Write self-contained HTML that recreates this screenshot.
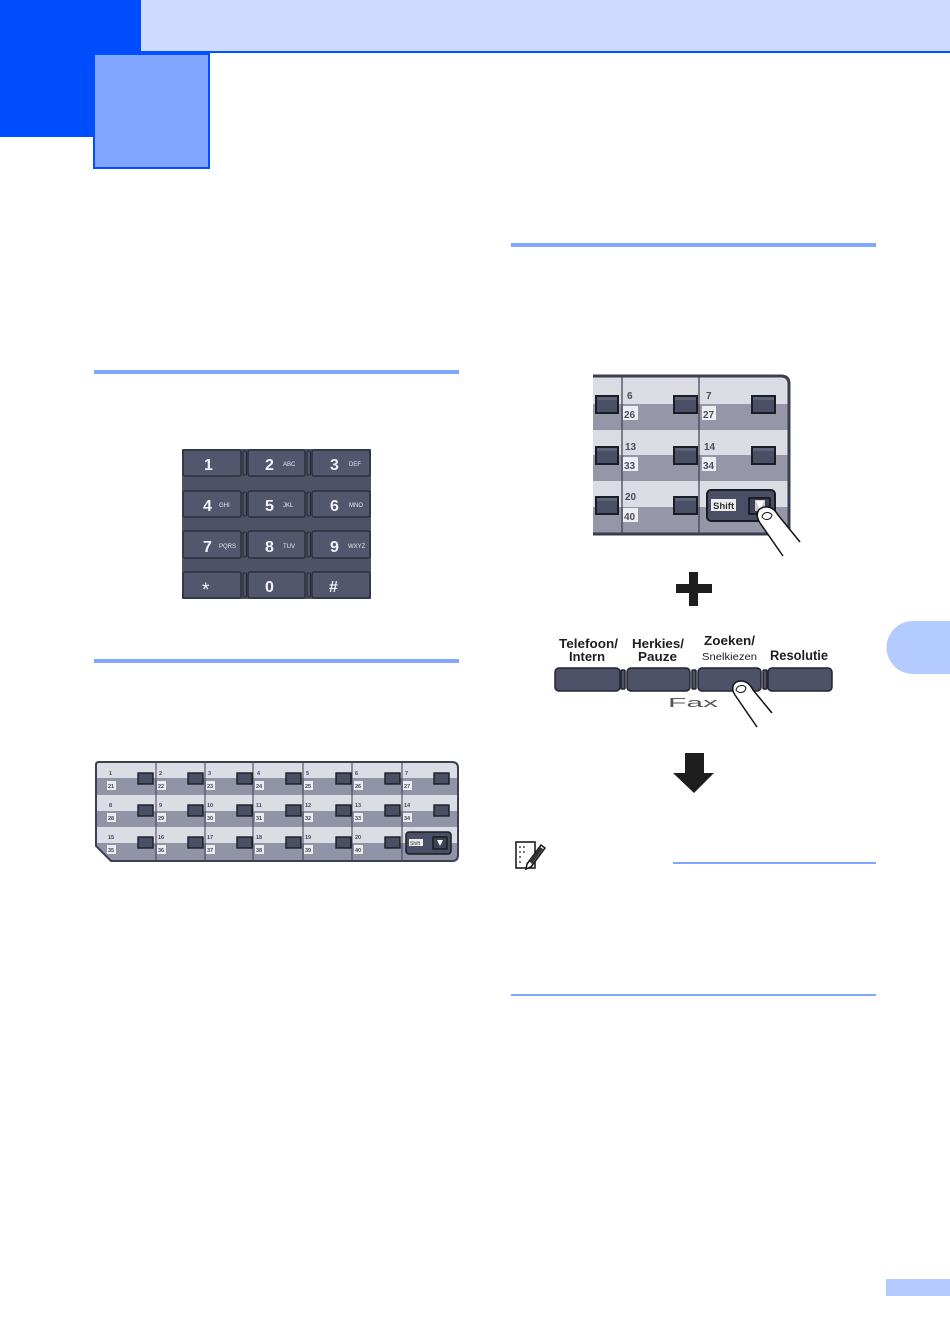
<!DOCTYPE html>
<html>
<head>
<meta charset="utf-8">
<style>
html,body{margin:0;padding:0;background:#fff;}
body{width:950px;height:1342px;position:relative;overflow:hidden;font-family:"Liberation Sans",sans-serif;}
svg{position:absolute;left:0;top:0;}
</style>
</head>
<body>
<svg width="950" height="1342" viewBox="0 0 950 1342" xmlns="http://www.w3.org/2000/svg" font-family="Liberation Sans, sans-serif">
<defs>
  <clipPath id="lp"><path d="M99,762 H452 Q458,762 458,768 V855 Q458,861 452,861 H111 L96,846 V765 Q96,762 99,762 Z"/></clipPath>
  <clipPath id="rp"><path d="M593,376 H781 Q789,376 789,384 V534 H593 Z"/></clipPath>
</defs>

<!-- Header -->
<rect x="0" y="0" width="141" height="137" fill="#004CFF"/>
<rect x="141" y="0" width="809" height="51" fill="#CCDBFF"/>
<rect x="141" y="51" width="809" height="2" fill="#0050FF"/>
<rect x="94" y="54" width="115" height="114" fill="#80A6FF" stroke="#0050FF" stroke-width="2"/>

<!-- Section lines -->
<rect x="94" y="370" width="365" height="4" fill="#80A6FF"/>
<rect x="511" y="243" width="365" height="4" fill="#80A6FF"/>
<rect x="94" y="659" width="365" height="4" fill="#80A6FF"/>
<rect x="673" y="862" width="203" height="2" fill="#80A6FF"/>
<rect x="511" y="994" width="365" height="2" fill="#80A6FF"/>

<!-- Side tabs -->
<path d="M913,621 H950 V674 H913 A26.5,26.5 0 0 1 913,621 Z" fill="#B3CBFF"/>
<rect x="886" y="1279" width="64" height="17" fill="#B3CBFF"/>

<!-- Keypad -->
<g>
  <rect x="182" y="449" width="189" height="150" fill="#4D5267"/>
  <g fill="#52576E" stroke="#262935" stroke-width="1.3">
    <rect x="183" y="450" width="58" height="26" rx="2"/>
    <rect x="248" y="450" width="57" height="26" rx="2"/>
    <rect x="312" y="450" width="58" height="26" rx="2"/>
    <rect x="183" y="491" width="58" height="26" rx="2"/>
    <rect x="248" y="491" width="57" height="26" rx="2"/>
    <rect x="312" y="491" width="58" height="26" rx="2"/>
    <rect x="183" y="531" width="58" height="27" rx="2"/>
    <rect x="248" y="531" width="57" height="27" rx="2"/>
    <rect x="312" y="531" width="58" height="27" rx="2"/>
    <rect x="183" y="572" width="58" height="26" rx="2"/>
    <rect x="248" y="572" width="57" height="26" rx="2"/>
    <rect x="312" y="572" width="58" height="26" rx="2"/>
  </g>
  <g fill="#4D5267" stroke="#262935" stroke-width="1">
    <rect x="243" y="451" width="3.5" height="24" rx="1"/>
    <rect x="307" y="451" width="3.5" height="24" rx="1"/>
    <rect x="243" y="492" width="3.5" height="24" rx="1"/>
    <rect x="307" y="492" width="3.5" height="24" rx="1"/>
    <rect x="243" y="532" width="3.5" height="25" rx="1"/>
    <rect x="307" y="532" width="3.5" height="25" rx="1"/>
    <rect x="243" y="573" width="3.5" height="24" rx="1"/>
    <rect x="307" y="573" width="3.5" height="24" rx="1"/>
  </g>
  <g fill="#F2F2F7" font-size="16" font-weight="bold">
    <text x="204" y="470">1</text>
    <text x="265" y="470">2</text>
    <text x="330" y="470">3</text>
    <text x="203" y="511">4</text>
    <text x="265" y="511">5</text>
    <text x="330" y="511">6</text>
    <text x="203" y="552">7</text>
    <text x="265" y="552">8</text>
    <text x="330" y="552">9</text>
    <text x="202" y="596" font-size="19" font-weight="normal">*</text>
    <text x="265" y="592">0</text>
    <text x="329" y="592">#</text>
  </g>
  <g fill="#E8E8EE" font-size="6">
    <text x="283" y="466">ABC</text>
    <text x="349" y="466">DEF</text>
    <text x="219" y="507">GHI</text>
    <text x="283" y="507">JKL</text>
    <text x="349" y="507">MNO</text>
    <text x="219" y="548">PQRS</text>
    <text x="283" y="548">TUV</text>
    <text x="348" y="548">WXYZ</text>
  </g>
</g>

<!-- Left one-touch panel -->
<g>
  <g clip-path="url(#lp)">
    <rect x="94" y="760" width="366" height="103" fill="#DBDCE4"/>
    <rect x="94" y="778" width="366" height="17" fill="#9193A6"/>
    <rect x="94" y="811" width="366" height="16" fill="#9193A6"/>
    <rect x="94" y="843" width="366" height="19" fill="#9193A6"/>
    <g stroke="#3D4052" stroke-width="1">
      <line x1="156" y1="762" x2="156" y2="861"/>
      <line x1="205" y1="762" x2="205" y2="861"/>
      <line x1="253" y1="762" x2="253" y2="861"/>
      <line x1="303" y1="762" x2="303" y2="861"/>
      <line x1="352" y1="762" x2="352" y2="861"/>
      <line x1="402" y1="762" x2="402" y2="861"/>
    </g>
  </g>
  <path d="M99,762 H452 Q458,762 458,768 V855 Q458,861 452,861 H111 L96,846 V765 Q96,762 99,762 Z" fill="none" stroke="#3D4052" stroke-width="2"/>
  <g fill="#4A4F66" stroke="#1B1C24" stroke-width="1.4">
    <rect x="138" y="773" width="15" height="11"/><rect x="188" y="773" width="15" height="11"/><rect x="237" y="773" width="15" height="11"/><rect x="286" y="773" width="15" height="11"/><rect x="336" y="773" width="15" height="11"/><rect x="385" y="773" width="15" height="11"/><rect x="434" y="773" width="15" height="11"/>
    <rect x="138" y="805" width="15" height="11"/><rect x="188" y="805" width="15" height="11"/><rect x="237" y="805" width="15" height="11"/><rect x="286" y="805" width="15" height="11"/><rect x="336" y="805" width="15" height="11"/><rect x="385" y="805" width="15" height="11"/><rect x="434" y="805" width="15" height="11"/>
    <rect x="138" y="837" width="15" height="11"/><rect x="188" y="837" width="15" height="11"/><rect x="237" y="837" width="15" height="11"/><rect x="286" y="837" width="15" height="11"/><rect x="336" y="837" width="15" height="11"/><rect x="385" y="837" width="15" height="11"/>
  </g>
  <g fill="#ECECF0">
    <rect x="107" y="781" width="9" height="9"/><rect x="157" y="781" width="9" height="9"/><rect x="206" y="781" width="9" height="9"/><rect x="255" y="781" width="9" height="9"/><rect x="304" y="781" width="9" height="9"/><rect x="354" y="781" width="9" height="9"/><rect x="403" y="781" width="9" height="9"/>
    <rect x="107" y="813" width="9" height="9"/><rect x="157" y="813" width="9" height="9"/><rect x="206" y="813" width="9" height="9"/><rect x="255" y="813" width="9" height="9"/><rect x="304" y="813" width="9" height="9"/><rect x="354" y="813" width="9" height="9"/><rect x="403" y="813" width="9" height="9"/>
    <rect x="107" y="845" width="9" height="9"/><rect x="157" y="845" width="9" height="9"/><rect x="206" y="845" width="9" height="9"/><rect x="255" y="845" width="9" height="9"/><rect x="304" y="845" width="9" height="9"/><rect x="354" y="845" width="9" height="9"/>
  </g>
  <g fill="#444656" font-size="5.5" font-weight="bold">
    <text x="109" y="775">1</text><text x="159" y="775">2</text><text x="208" y="775">3</text><text x="257" y="775">4</text><text x="306" y="775">5</text><text x="355" y="775">6</text><text x="405" y="775">7</text>
    <text x="108" y="788">21</text><text x="158" y="788">22</text><text x="207" y="788">23</text><text x="256" y="788">24</text><text x="305" y="788">25</text><text x="355" y="788">26</text><text x="404" y="788">27</text>
    <text x="109" y="807">8</text><text x="159" y="807">9</text><text x="207" y="807">10</text><text x="256" y="807">11</text><text x="305" y="807">12</text><text x="355" y="807">13</text><text x="404" y="807">14</text>
    <text x="108" y="820">28</text><text x="158" y="820">29</text><text x="207" y="820">30</text><text x="256" y="820">31</text><text x="305" y="820">32</text><text x="355" y="820">33</text><text x="404" y="820">34</text>
    <text x="108" y="839">15</text><text x="158" y="839">16</text><text x="207" y="839">17</text><text x="256" y="839">18</text><text x="305" y="839">19</text><text x="355" y="839">20</text>
    <text x="108" y="852">35</text><text x="158" y="852">36</text><text x="207" y="852">37</text><text x="256" y="852">38</text><text x="305" y="852">39</text><text x="355" y="852">40</text>
  </g>
  <rect x="406" y="832" width="45" height="22" rx="3" fill="#4A4F66" stroke="#1B1C24" stroke-width="1.5"/>
  <rect x="409" y="839" width="14" height="7" fill="#ECECF0"/>
  <text x="410" y="845" font-size="5" fill="#333">Shift</text>
  <rect x="433" y="837" width="14" height="12" fill="#3E4256" stroke="#111" stroke-width="1.2"/>
  <polygon points="437,840 443,840 440,846" fill="#fff"/>
</g>

<!-- Right zoomed panel -->
<g>
  <g clip-path="url(#rp)">
    <rect x="593" y="376" width="197" height="159" fill="#DCDCE4"/>
    <rect x="593" y="404" width="197" height="26" fill="#9597A9"/>
    <rect x="593" y="455" width="197" height="26" fill="#9597A9"/>
    <rect x="593" y="507" width="197" height="27" fill="#9597A9"/>
    <g stroke="#3B3E50" stroke-width="1.2">
      <line x1="622" y1="376" x2="622" y2="534"/>
      <line x1="699" y1="376" x2="699" y2="534"/>
    </g>
  </g>
  <path d="M593,376 H781 Q789,376 789,384 V534 H593" fill="none" stroke="#3B3E50" stroke-width="3"/>
  <g fill="#4A4F66" stroke="#1B1C24" stroke-width="2">
    <rect x="596" y="396" width="22" height="17"/>
    <rect x="674" y="396" width="23" height="17"/>
    <rect x="752" y="396" width="23" height="17"/>
    <rect x="596" y="447" width="22" height="17"/>
    <rect x="674" y="447" width="23" height="17"/>
    <rect x="752" y="447" width="23" height="17"/>
    <rect x="596" y="497" width="22" height="17"/>
    <rect x="674" y="497" width="23" height="17"/>
  </g>
  <g fill="#5E6379">
    <rect x="597" y="397" width="20" height="3"/><rect x="675" y="397" width="21" height="3"/><rect x="753" y="397" width="21" height="3"/>
    <rect x="597" y="448" width="20" height="3"/><rect x="675" y="448" width="21" height="3"/><rect x="753" y="448" width="21" height="3"/>
    <rect x="597" y="498" width="20" height="3"/><rect x="675" y="498" width="21" height="3"/>
  </g>
  <g fill="#EEEEF2">
    <rect x="623" y="406" width="15" height="14"/><rect x="702" y="406" width="14" height="14"/>
    <rect x="623" y="457" width="15" height="14"/><rect x="702" y="457" width="14" height="14"/>
    <rect x="623" y="508" width="15" height="14"/>
  </g>
  <g fill="#4A4D5E" font-size="10" font-weight="bold">
    <text x="627" y="399">6</text><text x="706" y="399">7</text>
    <text x="624" y="418">26</text><text x="703" y="418">27</text>
    <text x="625" y="450">13</text><text x="704" y="450">14</text>
    <text x="624" y="469">33</text><text x="703" y="469">34</text>
    <text x="625" y="500">20</text>
    <text x="624" y="520">40</text>
  </g>
  <rect x="707" y="490" width="68" height="31" rx="4" fill="#4A4F66" stroke="#1B1C24" stroke-width="2"/>
  <rect x="711" y="499" width="25" height="12" fill="#EEEEF2"/>
  <text x="713" y="509" font-size="9.5" font-weight="bold" fill="#333">Shift</text>
  <rect x="749" y="498" width="21" height="16" fill="#3E4256" stroke="#111" stroke-width="1.5"/>
  <rect x="755" y="500" width="10" height="11" fill="#C8C9D2"/>
  <polygon points="756,501 764,501 760,510" fill="#fff"/>
  <path d="M783,556 L760,523 C755,515 757,508 765,507 C771,506 775,510 778,515 L800,542" fill="#fff" stroke="#111" stroke-width="1.5"/>
  <path d="M762,517 C763,512 769,511 772,515 C771,520 765,521 762,517 Z" fill="none" stroke="#111" stroke-width="1"/>
</g>

<!-- Plus -->
<rect x="689" y="572" width="9" height="34" fill="#1E1E1E"/>
<rect x="676" y="584" width="36" height="9" fill="#1E1E1E"/>

<!-- Fax key labels -->
<g fill="#1E1E1E" font-size="13" font-weight="bold">
  <text x="559" y="648" textLength="59" lengthAdjust="spacingAndGlyphs">Telefoon/</text>
  <text x="569" y="661" textLength="36" lengthAdjust="spacingAndGlyphs">Intern</text>
  <text x="632" y="648" textLength="52" lengthAdjust="spacingAndGlyphs">Herkies/</text>
  <text x="638" y="661" textLength="39" lengthAdjust="spacingAndGlyphs">Pauze</text>
  <text x="704" y="645" textLength="51" lengthAdjust="spacingAndGlyphs">Zoeken/</text>
  <text x="770" y="660" textLength="58" lengthAdjust="spacingAndGlyphs" font-size="13.5">Resolutie</text>
</g>
<text x="702" y="660" font-size="10" fill="#1E1E1E" textLength="55" lengthAdjust="spacingAndGlyphs">Snelkiezen</text>

<!-- Fax buttons -->
<g fill="#4D5268" stroke="#22242E" stroke-width="1.5">
  <rect x="555" y="668" width="65" height="23" rx="4"/>
  <rect x="627" y="668" width="63" height="23" rx="4"/>
  <rect x="698" y="668" width="63" height="23" rx="4"/>
  <rect x="768" y="668" width="64" height="23" rx="4"/>
  <rect x="621" y="670" width="4" height="19" rx="1"/>
  <rect x="692" y="670" width="4" height="19" rx="1"/>
  <rect x="763" y="670" width="4" height="19" rx="1"/>
</g>
<text x="668" y="707" font-size="13" fill="#555" textLength="50" lengthAdjust="spacingAndGlyphs">Fax</text>
<path d="M757,727 L735,695 C730,687 734,681 741,681 C747,681 751,686 753,690 L772,713" fill="#fff" stroke="#111" stroke-width="1.5"/>
<path d="M736,690 C737,685 744,684 746,688 C745,693 739,694 736,690 Z" fill="none" stroke="#111" stroke-width="1"/>

<!-- Down arrow -->
<polygon points="685,753 704,753 704,773 714,773 694,793 673,773 685,773" fill="#1E1E1E"/>

<!-- Note icon -->
<g>
  <path d="M516,842 H535 V868 H516 Z" fill="#fff" stroke="#111" stroke-width="1.5"/>
  <g fill="#777">
    <rect x="519" y="846" width="2" height="2"/><rect x="523" y="846" width="2" height="2"/>
    <rect x="519" y="851" width="2" height="2"/><rect x="523" y="851" width="2" height="2"/>
    <rect x="519" y="856" width="2" height="2"/><rect x="519" y="861" width="2" height="2"/>
  </g>
  <path d="M527,864 L541,845 L545,848 L531,867 L526,869 Z" fill="#fff" stroke="#111" stroke-width="1.5"/>
  <path d="M529,861 L540,847 L543,849 L532,864 Z" fill="#333"/>
</g>
</svg>
</body>
</html>
